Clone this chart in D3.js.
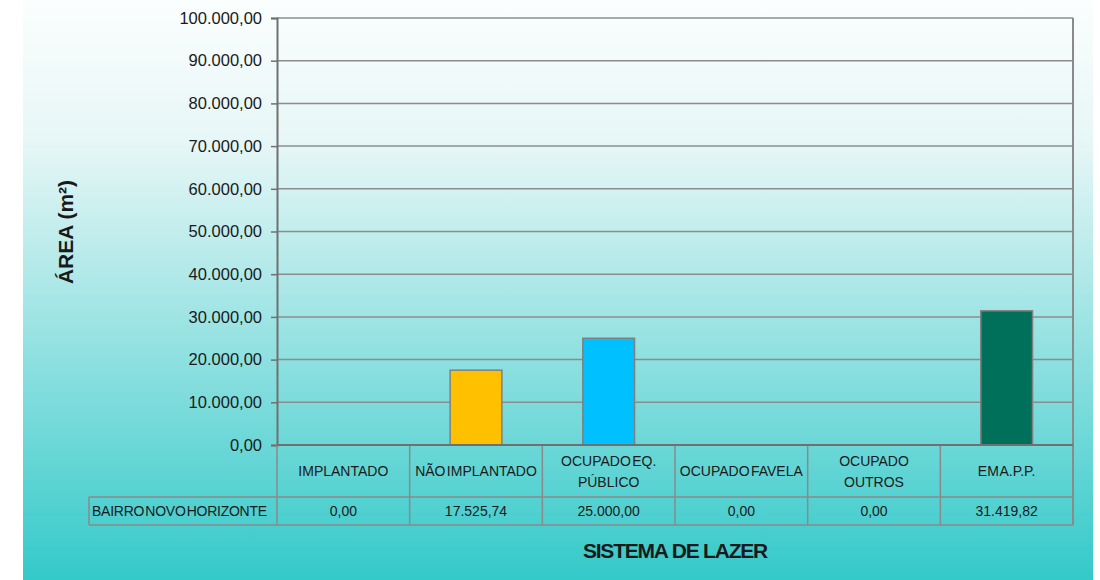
<!DOCTYPE html>
<html>
<head>
<meta charset="utf-8">
<script src="https://cdn.jsdelivr.net/npm/d3@7"></script>
<style>
  body { margin: 0; background: #fff; }
  text { font-family: Arial, "Liberation Sans", sans-serif; fill: #1a1a1a; }
</style>
</head>
<body>
<div id="myChart"></div>
<script>
// data
const categories = ["IMPLANTADO", "NÃO IMPLANTADO", "OCUPADO EQ. PÚBLICO", "OCUPADO FAVELA", "OCUPADO OUTROS", "EM A.P.P."]
const categoryLines = [["IMPLANTADO"], ["NÃO IMPLANTADO"], ["OCUPADO EQ.", "PÚBLICO"], ["OCUPADO FAVELA"], ["OCUPADO", "OUTROS"], ["EM A.P.P."]]
const seriesName = "BAIRRO NOVO HORIZONTE"
const values = [0, 17525.74, 25000, 0, 0, 31419.82]
const barColors = ["#9999ff", "#ffc000", "#00c0ff", "#cc99ff", "#ff9900", "#00705a"]
const yTicks = [0, 10000, 20000, 30000, 40000, 50000, 60000, 70000, 80000, 90000, 100000]
const yTitle = "ÁREA (m²)"
const xTitle = "SISTEMA DE LAZER"

let width = 1100
let height = 580

const ptBR = d3.formatLocale({ decimal: ",", thousands: ".", grouping: [3], currency: ["R$", ""] })
const fmt = ptBR.format(",.2f")

let svg = d3.select("#myChart")
  .append("svg")
  .attr("width", width)
  .attr("height", height)

// background panel gradient
let grad = svg.append("defs").append("linearGradient")
  .attr("id", "bg")
  .attr("x1", 0).attr("y1", 0).attr("x2", 0).attr("y2", 1)
grad.append("stop").attr("offset", "0%").attr("stop-color", "#fbfefe")
grad.append("stop").attr("offset", "25%").attr("stop-color", "#e6f6f6")
grad.append("stop").attr("offset", "100%").attr("stop-color", "#34c9c9")

svg.append("rect")
  .attr("x", 23).attr("y", 0)
  .attr("width", 1070).attr("height", 580)
  .attr("fill", "url(#bg)")

const plotLeft = 277, plotRight = 1073, plotTop = 18, plotBottom = 445
const row1 = 497, row2 = 525, labelLeft = 89

let x = d3.scaleBand().domain(categories).range([plotLeft, plotRight]).padding(0)
let y = d3.scaleLinear().domain([0, 100000]).range([plotBottom, plotTop])

// gridlines
svg.append("g")
  .selectAll("line")
  .data(yTicks)
  .enter().append("line")
  .attr("x1", plotLeft).attr("x2", plotRight)
  .attr("y1", d => y(d)).attr("y2", d => y(d))
  .attr("stroke", "#8c8c8c")
  .attr("stroke-width", 1.5)

// right border of plot
svg.append("line")
  .attr("x1", plotRight).attr("x2", plotRight)
  .attr("y1", plotTop).attr("y2", row2)
  .attr("stroke", "#8a8a8a")
  .attr("stroke-width", 2)

// y axis
let yAxis = svg.append("g")
  .attr("transform", `translate(${plotLeft},0)`)
  .call(d3.axisLeft(y).tickValues(yTicks).tickFormat(fmt).tickSize(6).tickPadding(9))
yAxis.select(".domain").attr("stroke", "#707070").attr("stroke-width", 2)
yAxis.selectAll(".tick line").attr("stroke", "#707070").attr("stroke-width", 1.5)
yAxis.selectAll(".tick text")
  .style("font-family", "Arial, 'Liberation Sans', sans-serif")
  .style("font-size", "16.5px")
  .attr("fill", "#1a1a1a")

// bars
let bw = x.bandwidth() * 0.39
svg.append("g")
  .selectAll("rect")
  .data(values)
  .enter().append("rect")
  .attr("x", (d, i) => x(categories[i]) + (x.bandwidth() - bw) / 2)
  .attr("y", d => y(d))
  .attr("width", bw)
  .attr("height", d => plotBottom - y(d))
  .attr("fill", (d, i) => barColors[i])
  .attr("stroke", "#808080")
  .attr("stroke-width", 1.5)
  .style("display", d => d > 0 ? null : "none")

// table lines
let tbl = svg.append("g").attr("stroke", "#8a8a8a").attr("stroke-width", 1.5)
tbl.append("line").attr("x1", labelLeft).attr("x2", plotRight).attr("y1", row1).attr("y2", row1)
tbl.append("line").attr("x1", labelLeft).attr("x2", plotRight).attr("y1", row2).attr("y2", row2)
tbl.append("line").attr("x1", labelLeft).attr("x2", labelLeft).attr("y1", row1).attr("y2", row2)
tbl.selectAll(".vl")
  .data(categories)
  .enter().append("line")
  .attr("x1", d => x(d)).attr("x2", d => x(d))
  .attr("y1", plotBottom).attr("y2", row2)

// x axis baseline
svg.append("line")
  .attr("x1", plotLeft).attr("x2", plotRight)
  .attr("y1", plotBottom).attr("y2", plotBottom)
  .attr("stroke", "#707070")
  .attr("stroke-width", 2)

// category header texts
let hdr = svg.append("g")
  .selectAll("text")
  .data(categoryLines)
  .enter().append("text")
  .attr("text-anchor", "middle")
  .style("font-size", "14px")
  .style("word-spacing", "-2.5px")
  .attr("x", (d, i) => x(categories[i]) + x.bandwidth() / 2)
  .attr("y", d => d.length > 1 ? 466 : 476)
hdr.selectAll("tspan")
  .data((d, i) => d.map(t => ({ t: t, i: i })))
  .enter().append("tspan")
  .attr("x", d => x(categories[d.i]) + x.bandwidth() / 2)
  .attr("dy", (d, j) => j == 0 ? 0 : 21)
  .text(d => d.t)

// values row
svg.append("text")
  .attr("x", 92)
  .attr("y", 516)
  .style("font-size", "14px")
  .style("word-spacing", "-2.5px")
  .style("letter-spacing", "-0.25px")
  .text(seriesName)

svg.append("g")
  .selectAll("text")
  .data(values)
  .enter().append("text")
  .attr("text-anchor", "middle")
  .attr("x", (d, i) => x(categories[i]) + x.bandwidth() / 2)
  .attr("y", 516)
  .style("font-size", "14px")
  .text(d => fmt(d))

// titles
svg.append("text")
  .attr("transform", "translate(73,232) rotate(-90)")
  .attr("text-anchor", "middle")
  .style("font-size", "21px")
  .style("font-weight", "bold")
  .attr("fill", "#000")
  .text(yTitle)

svg.append("text")
  .attr("x", 675)
  .attr("y", 558)
  .attr("text-anchor", "middle")
  .style("font-size", "21px")
  .style("font-weight", "bold")
  .style("letter-spacing", "-1.2px")
  .attr("fill", "#000")
  .text(xTitle)
</script>
</body>
</html>
